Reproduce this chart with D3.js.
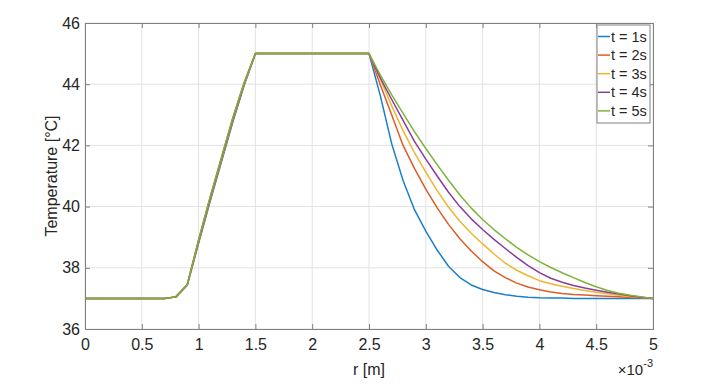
<!DOCTYPE html>
<html>
<head>
<meta charset="utf-8">
<script src="https://cdn.jsdelivr.net/npm/d3@7"></script>
<style>
  html, body { margin: 0; padding: 0; background: #ffffff; }
  svg { display: block; font-family: "Liberation Sans", Arial, Helvetica, sans-serif; }
</style>
</head>
<body>
<svg id="chart" width="724" height="387"></svg>
<script>
// r values in units of 1e-3 m
const rValues = [0.0,0.1,0.2,0.3,0.4,0.5,0.6,0.7,0.8,0.9,
                 1.0,1.1,1.2,1.3,1.4,1.5,1.6,1.7,1.8,1.9,
                 2.0,2.1,2.2,2.3,2.4,2.5,2.6,2.7,2.8,2.9,
                 3.0,3.1,3.2,3.3,3.4,3.5,3.6,3.7,3.8,3.9,
                 4.0,4.1,4.2,4.3,4.4,4.5,4.6,4.7,4.8,4.9,5.0];

const seriesNames = ["t = 1s", "t = 2s", "t = 3s", "t = 4s", "t = 5s"];

const temp1s = [37,37,37,37,37,37,37,37,37.05,37.43,
                38.8,40.15,41.45,42.75,43.95,45,45,45,45,45,
                45,45,45,45,45,45,43.62,42.05,40.85,39.9,
                39.2,38.58,38.05,37.68,37.44,37.29,37.19,37.12,37.07,37.04,
                37.02,37.01,37.01,37.0,37.0,37.0,37.0,37.0,37.0,37.0,37.0];
const temp2s = [37,37,37,37,37,37,37,37,37.05,37.44,
                38.84,40.2,41.5,42.8,43.98,45,45,45,45,45,
                45,45,45,45,45,45,43.97,42.99,42.0,41.25,
                40.57,39.96,39.42,38.95,38.55,38.2,37.9,37.68,37.5,37.37,
                37.28,37.21,37.16,37.13,37.11,37.09,37.07,37.05,37.03,37.02,37.0];
const temp3s = [37,37,37,37,37,37,37,37,37.05,37.44,
                38.87,40.24,41.54,42.84,44.01,45,45,45,45,45,
                45,45,45,45,45,45,44.17,43.29,42.48,41.76,
                41.13,40.52,39.98,39.52,39.13,38.78,38.45,38.15,37.92,37.74,
                37.58,37.48,37.4,37.32,37.26,37.2,37.15,37.1,37.06,37.03,37.0];
const temp4s = [37,37,37,37,37,37,37,37,37.05,37.45,
                38.9,40.27,41.57,42.87,44.03,45,45,45,45,45,
                45,45,45,45,45,45,44.2,43.5,42.82,42.13,
                41.55,41.0,40.47,40.0,39.6,39.25,38.93,38.63,38.34,38.07,
                37.84,37.66,37.53,37.42,37.34,37.27,37.2,37.14,37.09,37.04,37.0];
const temp5s = [37,37,37,37,37,37,37,37,37.05,37.45,
                38.92,40.3,41.6,42.9,44.05,45,45,45,45,45,
                45,45,45,45,45,45,44.3,43.65,43.05,42.45,
                41.9,41.37,40.86,40.38,39.95,39.58,39.25,38.95,38.67,38.42,
                38.2,38.01,37.84,37.68,37.52,37.38,37.26,37.17,37.1,37.05,37.0];

const seriesValues = [temp1s, temp2s, temp3s, temp4s, temp5s];
const seriesColors = ["#1a7fc8", "#dc5d28", "#efb52c", "#8a3c9a", "#7db33a"];

const xTicks = [0, 0.5, 1, 1.5, 2, 2.5, 3, 3.5, 4, 4.5, 5];
const yTicks = [36, 38, 40, 42, 44, 46];

const xLabel = "r [m]";
const yLabel = "Temperature [°C]";

// ---- layout ----
const svg = d3.select("#chart");
const mLeft = 85, mRight = 653, mTop = 23, mBottom = 329;

const x = d3.scaleLinear().domain([0, 5]).range([mLeft, mRight]);
const y = d3.scaleLinear().domain([36, 46]).range([mBottom, mTop]);

const axisColor = "#808080";
const textColor = "#262626";
const gridColor = "#e3e3e3";

// grid
const grid = svg.append("g");
grid.selectAll("line.gx").data(xTicks).join("line")
  .attr("class", "gx")
  .attr("x1", d => x(d)).attr("x2", d => x(d))
  .attr("y1", mTop).attr("y2", mBottom)
  .attr("stroke", gridColor).attr("stroke-width", 1);
grid.selectAll("line.gy").data(yTicks).join("line")
  .attr("class", "gy")
  .attr("x1", mLeft).attr("x2", mRight)
  .attr("y1", d => y(d)).attr("y2", d => y(d))
  .attr("stroke", gridColor).attr("stroke-width", 1);

// clip
svg.append("clipPath").attr("id", "clip").append("rect")
  .attr("x", mLeft).attr("y", mTop).attr("width", mRight - mLeft).attr("height", mBottom - mTop);

// lines
const line = d3.line().x((d, i) => x(rValues[i])).y(d => y(d));
const linesG = svg.append("g").attr("clip-path", "url(#clip)");
seriesValues.forEach((vals, k) => {
  linesG.append("path").datum(vals)
    .attr("d", line)
    .attr("fill", "none")
    .attr("stroke", seriesColors[k])
    .attr("stroke-width", 1.5)
    .attr("stroke-linejoin", "round");
});

// axes (ticks inward)
const tickLen = 5;
const axB = d3.axisBottom(x).tickValues(xTicks).tickSize(-tickLen).tickPadding(10).tickFormat(d3.format("~g"));
const axT = d3.axisTop(x).tickValues(xTicks).tickSize(-tickLen).tickFormat("");
const axL = d3.axisLeft(y).tickValues(yTicks).tickSize(-tickLen).tickPadding(5).tickFormat(d3.format("d"));
const axR = d3.axisRight(y).tickValues(yTicks).tickSize(-tickLen).tickFormat("");

function styleAxis(g) {
  g.select(".domain").attr("stroke", axisColor).attr("stroke-width", 1);
  g.selectAll(".tick line").attr("stroke", axisColor).attr("stroke-width", 1);
  g.selectAll(".tick text").attr("fill", textColor).attr("font-size", 16)
    .attr("font-family", "'Liberation Sans', Arial, sans-serif");
}
svg.append("g").attr("transform", `translate(0,${mBottom})`).call(axB).call(styleAxis);
svg.append("g").attr("transform", `translate(0,${mTop})`).call(axT).call(styleAxis);
svg.append("g").attr("transform", `translate(${mLeft},0)`).call(axL).call(styleAxis);
svg.append("g").attr("transform", `translate(${mRight},0)`).call(axR).call(styleAxis);

// axis labels
svg.append("text").attr("x", (mLeft + mRight) / 2).attr("y", 375)
  .attr("text-anchor", "middle").attr("fill", textColor).attr("font-size", 16)
  .text(xLabel);
svg.append("text")
  .attr("transform", `translate(57,${(mTop + mBottom) / 2}) rotate(-90)`)
  .attr("text-anchor", "middle").attr("fill", textColor).attr("font-size", 16)
  .text(yLabel);

// exponent label
const expT = svg.append("text").attr("x", mRight).attr("y", 375)
  .attr("text-anchor", "end").attr("fill", textColor).attr("font-size", 15);
expT.append("tspan").text("×10");
expT.append("tspan").attr("dy", -8).attr("font-size", 11).text("-3");

// legend
const lg = svg.append("g");
const lgX = 597, lgY = 25, lgW = 53, lgH = 98;
lg.append("rect").attr("x", lgX).attr("y", lgY).attr("width", lgW).attr("height", lgH)
  .attr("fill", "#fff").attr("stroke", axisColor).attr("stroke-width", 1);
seriesNames.forEach((name, k) => {
  const cy = 36.5 + k * 18.6;
  lg.append("line").attr("x1", lgX + 1).attr("x2", lgX + 13)
    .attr("y1", cy).attr("y2", cy)
    .attr("stroke", seriesColors[k]).attr("stroke-width", 1.5);
  lg.append("text").attr("x", lgX + 14).attr("y", cy + 5)
    .attr("fill", textColor).attr("font-size", 14.5).text(name);
});
</script>
</body>
</html>
